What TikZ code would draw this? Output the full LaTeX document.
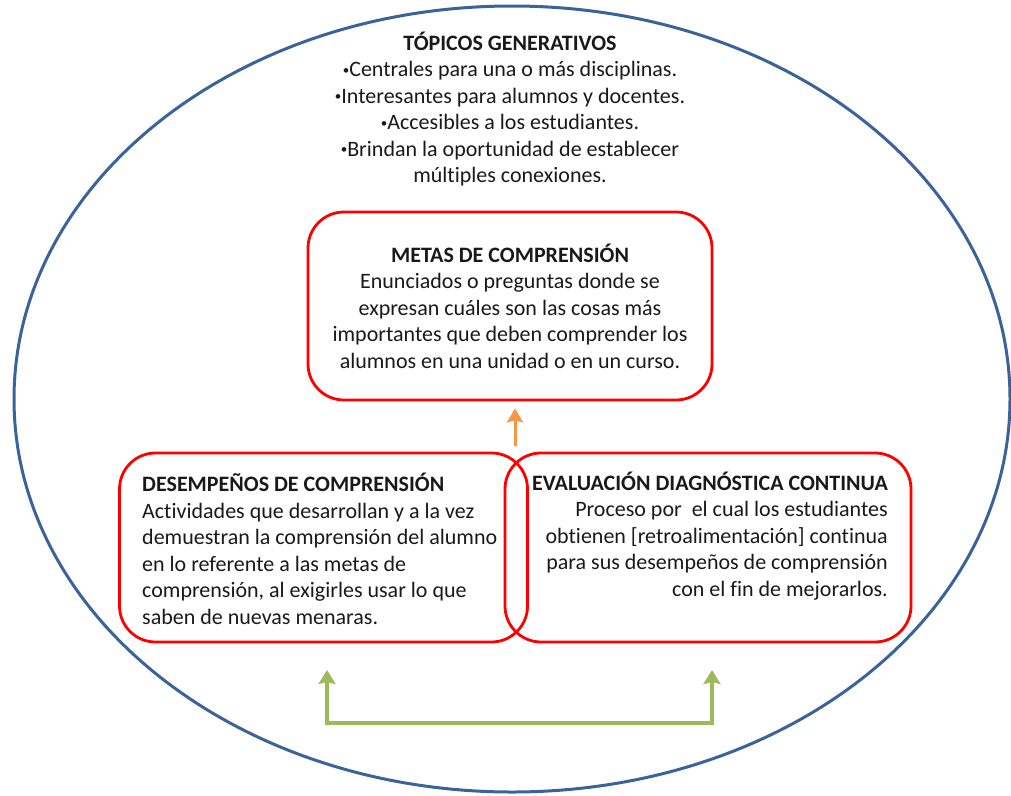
\documentclass[tikz,border=0pt]{standalone}
\usepackage{fontspec}
\setmainfont{Carlito}[Ligatures=NoCommon]
\usetikzlibrary{arrows.meta}
\definecolor{frameblue}{RGB}{58,99,154}
\definecolor{boxred}{RGB}{255,0,0}
\definecolor{arrorange}{RGB}{247,150,70}
\definecolor{arrgreen}{RGB}{155,187,89}
\newcommand{\smbul}{{\fontsize{13}{13}\selectfont\raisebox{2.5pt}{•}}}
\tikzset{
  txt/.style={inner sep=0pt, font=\fontsize{22}{26.5}\selectfont, text=black!90},
  redbox/.style={draw=boxred, line width=2.8pt, rounded corners=36pt, inner sep=0pt},
  orangearr/.style={draw=arrorange, line width=3pt, -{Stealth[length=14pt,width=16pt,inset=2pt]}},
  greenarr/.style={draw=arrgreen, line width=3.4pt, {Stealth[length=14pt,width=17pt,inset=2pt]}-{Stealth[length=14pt,width=17pt,inset=2pt]}},
}
\begin{document}
\begin{tikzpicture}[x=1pt,y=-1pt]
\useasboundingbox (0,0) rectangle (1011,795);
% outer ellipse
\draw[frameblue, line width=3pt] (512,399) ellipse [x radius=498, y radius=393];

% boxes
\node[redbox, minimum width=404pt, minimum height=188pt] (metas) at (510,306) {};
\node[redbox, minimum width=408pt, minimum height=189pt] (desemp) at (323.5,547.5) {};
\node[redbox, minimum width=406pt, minimum height=189pt] (evalua) at (708,547.5) {};

% texts
\node[txt, align=center] (topicos) at (510,109) {\textbf{TÓPICOS GENERATIVOS}\\
\smbul Centrales para una o más disciplinas.\\
\smbul Interesantes para alumnos y docentes.\\
\smbul Accesibles a los estudiantes.\\
\smbul Brindan la oportunidad de establecer\\
múltiples conexiones.};

\node[txt, align=center] (metastxt) at (metas.center) {\textbf{METAS DE COMPRENSIÓN}\\
Enunciados o preguntas donde se\\
expresan cuáles son las cosas más\\
importantes que deben comprender los\\
alumnos en una unidad o en un curso.};

\node[txt, align=left, anchor=west] (desemptxt) at (142,549) {\textbf{DESEMPEÑOS DE COMPRENSIÓN}\\
Actividades que desarrollan y a la vez\\
demuestran la comprensión del alumno\\
en lo referente a las metas de\\
comprensión, al exigirles usar lo que\\
saben de nuevas menaras.};

\node[txt, align=right, anchor=east] (evaluatxt) at (888,536) {\textbf{EVALUACIÓN DIAGNÓSTICA CONTINUA}\\
Proceso por \ el cual los estudiantes\\
obtienen [retroalimentación] continua\\
para sus desempeños de comprensión\\
con el fin de mejorarlos.};

% arrows
\coordinate (oa) at (515,446);
\draw[orangearr, shorten >=7pt] (oa) -- (oa |- metas.south);
\coordinate (gl) at (327,670);
\coordinate (gr) at (712,670);
\coordinate (gb) at (520,723);
\draw[greenarr] (gl) |- (gb) -| (gr);
\end{tikzpicture}
\end{document}
